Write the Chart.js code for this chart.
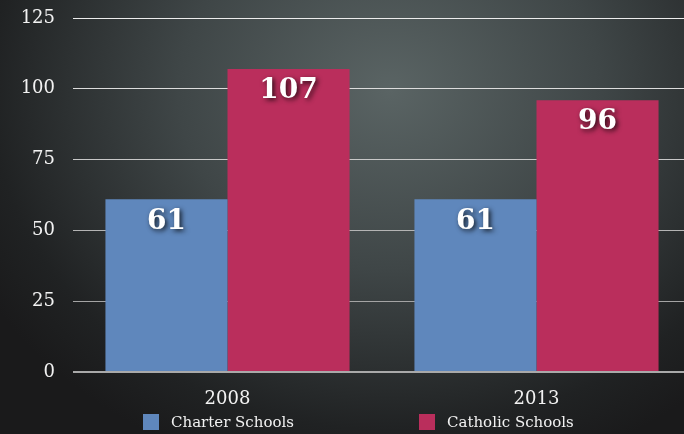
<!DOCTYPE html>
<html>
<head>
<meta charset="utf-8">
<script src="https://cdn.jsdelivr.net/npm/chart.js@4.4.1/dist/chart.umd.min.js"></script>
<style>
  html, body { margin:0; padding:0; }
  body {
    width:684px; height:434px; overflow:hidden; position:relative;
    background: radial-gradient(ellipse 470px 400px at 390px 90px, #5a6464 0%, #3f4647 45%, #202223 85%, #1a1a1b 100%);
    font-family: "DejaVu Serif", serif;
  }
  #wrap { position:absolute; left:0; top:0; width:692px; height:434px; }
  #legend { position:absolute; left:0; top:412px; width:684px; height:20px; }
  .item { position:absolute; top:0; color:#f2f2f2; font-size:15px; line-height:20px; white-space:nowrap; }
  .item span.box { position:absolute; left:0; top:2px; width:16px; height:16px; }
  .item span.txt { position:absolute; left:28px; top:0; }
</style>
</head>
<body>
<div id="wrap"><canvas id="c" width="692" height="434"></canvas></div>
<div id="legend"></div>
<script>
// chart data
const years = ['2008', '2013'];
const charterSchools = [61, 61];
const catholicSchools = [107, 96];
const seriesNames = ['Charter Schools', 'Catholic Schools'];
const seriesColors = ['#5f87bc', '#ba2e5c'];
const legendLeft = [143, 419];

// values written inside the top of each bar
const barValues = {
  id: 'barValues',
  afterDatasetsDraw(chart){
    const ctx = chart.ctx;
    ctx.save();
    ctx.font = 'bold 28px "DejaVu Serif"';
    ctx.textAlign = 'center';
    ctx.textBaseline = 'middle';
    ctx.fillStyle = '#ffffff';
    ctx.shadowColor = 'rgba(0,0,0,0.8)';
    ctx.shadowBlur = 5;
    ctx.shadowOffsetX = 2;
    ctx.shadowOffsetY = 2;
    chart.data.datasets.forEach((ds, i) => {
      chart.getDatasetMeta(i).data.forEach((bar, j) => {
        ctx.fillText(ds.data[j], bar.x, bar.y + 22);
      });
    });
    ctx.restore();
  }
};

const gridColor = (c) => {
  const v = c.tick ? c.tick.value : 0;
  return ['#a9a9a9', '#a4a4a4', '#b4b4b4', '#c8c8c8', '#dcdcdc', '#ececec'][v / 25];
};

new Chart(document.getElementById('c'), {
  type: 'bar',
  data: {
    labels: years,
    datasets: [
      { label: seriesNames[0], data: charterSchools, backgroundColor: seriesColors[0] },
      { label: seriesNames[1], data: catholicSchools, backgroundColor: seriesColors[1] }
    ]
  },
  options: {
    responsive: false,
    animation: false,
    devicePixelRatio: 1,
    layout: { padding: { top: 18, right: 1, left: 0, bottom: 0 } },
    datasets: { bar: { categoryPercentage: 0.79, barPercentage: 1 } },
    plugins: { legend: { display: false }, tooltip: { enabled: false } },
    scales: {
      x: {
        grid: { display: false },
        border: { display: false },
        ticks: { color: '#f2f2f2', font: { family: 'DejaVu Serif', size: 18 }, padding: 9 },
        afterFit: (s) => { s.height = 62; }
      },
      y: {
        min: 0, max: 125,
        ticks: { stepSize: 25, color: '#f2f2f2', font: { family: 'DejaVu Serif', size: 18 }, padding: 18 },
        grid: { color: gridColor, lineWidth: (c) => (c.tick && c.tick.value === 0 ? 2 : 1), drawTicks: false },
        border: { display: false },
        afterFit: (s) => { s.width = 73; s.paddingTop = 0; s.paddingBottom = 0; }
      }
    }
  },
  plugins: [barValues]
});

// legend laid out like the original, spread under the categories
const legend = document.getElementById('legend');
seriesNames.forEach((name, i) => {
  const item = document.createElement('div');
  item.className = 'item';
  item.style.left = legendLeft[i] + 'px';
  item.innerHTML = '<span class="box" style="background:' + seriesColors[i] + '"></span><span class="txt">' + name + '</span>';
  legend.appendChild(item);
});
</script>
</body>
</html>
